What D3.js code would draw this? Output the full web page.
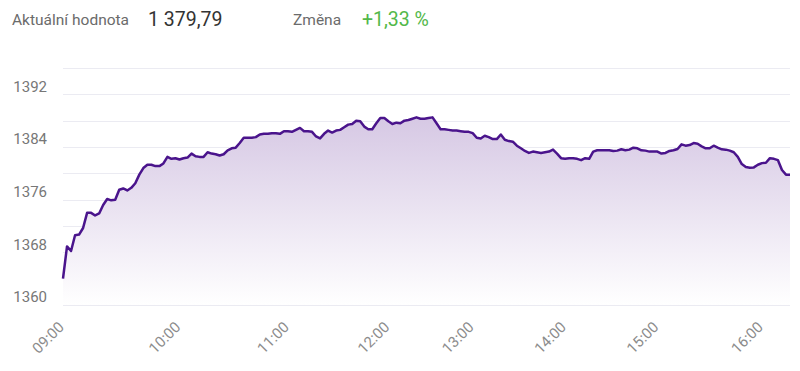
<!DOCTYPE html>
<meta charset="utf-8">
<script src="https://d3js.org/d3.v7.min.js"></script>
<style>
  body { margin: 0; background: #fff; }
  text { font-family: Roboto, "Noto Sans", sans-serif; }
</style>
<body></body>
<script>

    // index value of PX per sample (ordinal axis, one sample per step)
    var values = [
      1364.0, 1368.9, 1368.2, 1370.6, 1370.7, 1371.7, 1374.0, 1374.0, 1373.6, 1373.9,
      1375.2, 1376.1, 1375.9, 1376.0, 1377.5, 1377.7, 1377.4, 1377.8, 1378.5, 1379.8,
      1380.8, 1381.3, 1381.3, 1381.1, 1381.1, 1381.5, 1382.5, 1382.2, 1382.3, 1382.1,
      1382.3, 1382.4, 1383.0, 1382.6, 1382.5, 1382.5, 1383.2, 1383.0, 1382.9, 1382.7,
      1382.9, 1383.5, 1383.8, 1383.9, 1384.6, 1385.4, 1385.4, 1385.4, 1385.5, 1385.9,
      1386.0, 1386.0, 1386.1, 1386.1, 1386.0, 1386.4, 1386.4, 1386.3, 1386.6, 1386.9,
      1386.4, 1386.4, 1386.3, 1385.6, 1385.3, 1386.0, 1386.5, 1386.2, 1386.5, 1386.6,
      1387.0, 1387.4, 1387.5, 1388.0, 1387.9, 1387.1, 1386.7, 1386.7, 1387.6, 1388.4,
      1388.4, 1387.9, 1387.5, 1387.7, 1387.6, 1388.0, 1388.1, 1388.3, 1388.5, 1388.3,
      1388.3, 1388.4, 1388.5, 1387.6, 1386.7, 1386.7, 1386.6, 1386.5, 1386.5, 1386.4,
      1386.3, 1386.3, 1386.1, 1385.4, 1385.3, 1385.7, 1385.5, 1385.2, 1385.2, 1385.9,
      1385.1, 1384.9, 1384.8, 1384.2, 1383.8, 1383.4, 1383.1, 1383.3, 1383.2, 1383.1,
      1383.2, 1383.3, 1383.6, 1383.0, 1382.3, 1382.2, 1382.3, 1382.3, 1382.2, 1382.0,
      1382.3, 1382.2, 1383.3, 1383.5, 1383.5, 1383.5, 1383.5, 1383.4, 1383.45, 1383.65,
      1383.5, 1383.6, 1383.9, 1383.8, 1383.5, 1383.45, 1383.3, 1383.3, 1383.3, 1383.0,
      1383.1, 1383.4, 1383.5, 1383.7, 1384.4, 1384.2, 1384.3, 1384.6, 1384.5, 1384.1,
      1383.8, 1383.8, 1384.2, 1383.9, 1383.65, 1383.6, 1383.45, 1383.2, 1382.5, 1381.4,
      1380.95, 1380.85, 1380.9, 1381.3, 1381.55, 1381.6, 1382.3, 1382.2, 1382.0, 1380.5,
      1379.8, 1379.79
    ];

    var hourLabels = ["09:00", "10:00", "11:00", "12:00", "13:00", "14:00", "15:00", "16:00"];
    var hourIndex = [0, 29, 56, 81, 102, 125, 148, 174];

    var yTicks = [1360, 1364, 1368, 1372, 1376, 1380, 1384, 1388, 1392, 1396];
    var yLabels = [1360, 1368, 1376, 1384, 1392];

    var width = 800,
        height = 371,
        plotLeft = 63,
        plotRight = 790,
        plotTop = 68,
        plotBottom = 305;

    var x = d3.scaleLinear()
        .domain([0, values.length - 1])
        .range([plotLeft, plotRight]);

    var y = d3.scaleLinear()
        .domain([1360, 1396])
        .range([plotBottom, plotTop]);

    var svg = d3.select("body").append("svg")
        .attr("width", width)
        .attr("height", height);

    // header
    var head = svg.append("g");
    head.append("text").attr("x", 12).attr("y", 25)
        .attr("font-size", 15.5).attr("fill", "#6b6b6b").text("Aktuální hodnota");
    head.append("text").attr("x", 148).attr("y", 26)
        .attr("font-size", 19.5).attr("fill", "#333").text("1 379,79");
    head.append("text").attr("x", 293).attr("y", 25)
        .attr("font-size", 15.5).attr("fill", "#6b6b6b").text("Změna");
    head.append("text").attr("x", 362).attr("y", 26)
        .attr("font-size", 19.5).attr("fill", "#52b84a").text("+1,33 %");

    // grid
    svg.append("g").selectAll("line")
        .data(yTicks)
        .enter().append("line")
        .attr("x1", plotLeft).attr("x2", plotRight)
        .attr("y1", function(d) { return Math.round(y(d)) + 0.5; })
        .attr("y2", function(d) { return Math.round(y(d)) + 0.5; })
        .attr("stroke", "#ebebf2")
        .attr("stroke-width", 1);

    svg.append("g").selectAll("text")
        .data(yLabels)
        .enter().append("text")
        .attr("x", 47)
        .attr("y", function(d) { return y(d) - 8; })
        .attr("dy", "0.35em")
        .attr("text-anchor", "end")
        .attr("font-size", 15)
        .attr("fill", "#777")
        .text(function(d) { return d; });

    // area gradient
    var grad = svg.append("defs").append("linearGradient")
        .attr("id", "fill")
        .attr("x1", 0).attr("y1", 0).attr("x2", 0).attr("y2", 1);
    grad.append("stop").attr("offset", "0%").attr("stop-color", "#d6c8e4");
    grad.append("stop").attr("offset", "100%").attr("stop-color", "#ffffff");

    var area = d3.area()
        .x(function(d, i) { return x(i); })
        .y0(plotBottom)
        .y1(function(d) { return y(d); });

    var line = d3.line()
        .x(function(d, i) { return x(i); })
        .y(function(d) { return y(d); });

    svg.append("path")
        .datum(values)
        .attr("d", area)
        .attr("fill", "url(#fill)");

    svg.append("path")
        .datum(values)
        .attr("d", line)
        .attr("fill", "none")
        .attr("stroke", "#4a148c")
        .attr("stroke-width", 2.5)
        .attr("stroke-linejoin", "round");

    // x labels
    svg.append("g").selectAll("text")
        .data(hourLabels)
        .enter().append("text")
        .attr("transform", function(d, i) {
          return "translate(" + (x(hourIndex[i]) + 2) + ",328) rotate(-45)";
        })
        .attr("text-anchor", "end")
        .attr("font-size", 15)
        .attr("fill", "#8c8c8c")
        .text(function(d) { return d; });

</script>
